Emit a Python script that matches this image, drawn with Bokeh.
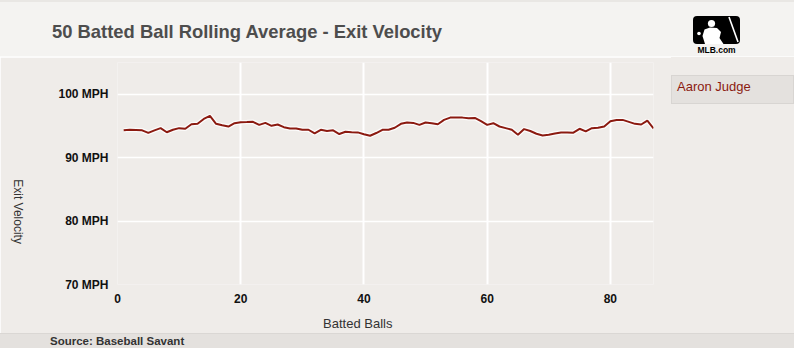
import math
from bokeh.plotting import figure
from bokeh.models import (Range1d, FixedTicker, LinearAxis, Div)
from bokeh.layouts import column, row
from bokeh.embed import file_html
from bokeh.resources import INLINE

# ---------------- data ----------------
title_text = "50 Batted Ball Rolling Average - Exit Velocity"
player = "Aaron Judge"
source_text = "Source: Baseball Savant"
logo_text = "MLB.com"
x_label = "Batted Balls"
y_label = "Exit Velocity"

batted_balls = list(range(1, 88))
exit_velocity = [
    94.30, 94.40, 94.35, 94.30, 93.90, 94.30, 94.65, 94.00, 94.40, 94.65,
    94.55, 95.27, 95.33, 96.10, 96.57, 95.33, 95.10, 94.90, 95.43, 95.59,
    95.60, 95.64, 95.17, 95.48, 95.02, 95.22, 94.80, 94.60, 94.60, 94.39,
    94.40, 93.82, 94.39, 94.20, 94.30, 93.72, 94.08, 94.00, 93.98, 93.70,
    93.45, 93.88, 94.39, 94.39, 94.71, 95.33, 95.54, 95.48, 95.17, 95.54,
    95.43, 95.27, 95.95, 96.31, 96.31, 96.31, 96.20, 96.26, 95.74, 95.17,
    95.43, 94.91, 94.65, 94.39, 93.60, 94.50, 94.20, 93.77, 93.50, 93.60,
    93.80, 93.95, 93.98, 93.93, 94.55, 94.15, 94.65, 94.70, 94.91, 95.74,
    95.95, 95.95, 95.64, 95.33, 95.22, 95.85, 94.60,
]
x_ticks = [0, 20, 40, 60, 80]
y_ticks = [70, 80, 90, 100]
y_tick_labels = ["70 MPH", "80 MPH", "90 MPH", "100 MPH"]

# ---------------- style ----------------
W = 794
CHART_W = 671
LEGEND_W = W - CHART_W
CHART_H = 276
FONT = "Liberation Sans"
HEADER_BG = "#f4f3f1"
CHART_BG = "#efece9"
FOOTER_BG = "#e4e1de"
LINE_COLOR = "#8b1a10"
X_TITLE_AT = 39.0    # where the x-axis title sits (data units, as in the reference)
Y_TITLE_AT = 76.4    # where the y-axis title ends (data units)

# ---------------- header (HTML) ----------------
logo_svg = (
    '<svg width="50" height="40" style="position:absolute;left:693px;top:14px" '
    'xmlns="http://www.w3.org/2000/svg">'
    '<rect x="0" y="0" width="47" height="28" rx="4" fill="#000"/>'
    '<path d="M12 28 L9.5 20 L11.5 13.5 L17 11.5 L24 12 L28 16 L26.5 22 L30.5 28 Z" fill="#fff"/>'
    '<circle cx="18.5" cy="7.5" r="3.6" fill="#fff"/>'
    '<circle cx="6" cy="17.5" r="1.8" fill="#fff"/>'
    '<line x1="36" y1="1" x2="45" y2="26" stroke="#fff" stroke-width="1.6"/>'
    '<text x="23.5" y="37" text-anchor="middle" font-family="Liberation Sans" '
    'font-weight="bold" font-size="8.5px" fill="#000">' + logo_text + '</text>'
    '</svg>'
)
header_html = (
    f'<div style="position:relative;width:{W}px;height:57px;background:{HEADER_BG};'
    'box-sizing:border-box;border-top:2px solid #e9e7e4;border-bottom:1.5px solid #fbfbfa;">'
    f'<span style="position:absolute;left:52px;top:20px;font-family:\'{FONT}\';'
    'font-size:18.4px;font-weight:bold;color:#4d4d4d;line-height:20px;white-space:nowrap;">'
    + title_text + '</span>' + logo_svg + '</div>'
)
header = Div(text=header_html, width=W, height=57, margin=0)

# ---------------- main chart ----------------
p = figure(width=CHART_W, height=CHART_H, x_range=Range1d(0, batted_balls[-1]),
           y_range=Range1d(70, 105), output_backend="svg", toolbar_location=None,
           title=None, min_border_left=116, min_border_right=18,
           min_border_top=5, min_border_bottom=46,
           background_fill_color=CHART_BG, border_fill_color=CHART_BG,
           outline_line_color=None)

p.xaxis.ticker = FixedTicker(ticks=x_ticks)
p.yaxis.ticker = FixedTicker(ticks=y_ticks)
p.yaxis.major_label_overrides = {t: lab for t, lab in zip(y_ticks, y_tick_labels)}


def quiet(ax):
    ax.axis_line_color = None
    ax.major_tick_line_color = None
    ax.minor_tick_line_color = None
    ax.major_tick_out = 0
    ax.major_tick_in = 0
    ax.minor_tick_out = 0
    ax.minor_tick_in = 0


for ax in (p.xaxis[0], p.yaxis[0]):
    quiet(ax)
    ax.major_label_text_font = FONT
    ax.major_label_text_font_size = "12px"
    ax.major_label_text_font_style = "bold"
    ax.major_label_text_color = "#111111"
p.xaxis.major_label_standoff = 9
p.yaxis.major_label_standoff = 9

# axis titles drawn as single labels of title-only axes (placed like the reference)
ylab_axis = LinearAxis(ticker=FixedTicker(ticks=[Y_TITLE_AT]),
                       major_label_overrides={Y_TITLE_AT: y_label},
                       major_label_orientation=-math.pi / 2,
                       major_label_standoff=38,
                       major_label_text_font=FONT, major_label_text_font_size="12px",
                       major_label_text_color="#333333")
quiet(ylab_axis)
p.add_layout(ylab_axis, "left")

xlab_axis = LinearAxis(ticker=FixedTicker(ticks=[X_TITLE_AT]),
                       major_label_overrides={X_TITLE_AT: x_label},
                       major_label_standoff=10,
                       major_label_text_font=FONT, major_label_text_font_size="13px",
                       major_label_text_color="#333333")
quiet(xlab_axis)
p.add_layout(xlab_axis, "below")

p.xgrid.grid_line_color = "white"
p.xgrid.grid_line_width = 2
p.ygrid.grid_line_color = "white"
p.ygrid.grid_line_width = 1.5

p.line(batted_balls, exit_velocity, line_color="white", line_width=4.5, line_alpha=0.85)
p.line(batted_balls, exit_velocity, line_color=LINE_COLOR, line_width=2)

# ---------------- legend (HTML, to the right of the plot area) ----------------
legend_html = (
    f'<div style="position:relative;width:{LEGEND_W}px;height:{CHART_H}px;background:{CHART_BG};">'
    f'<div style="position:absolute;left:0;top:18px;width:{LEGEND_W}px;height:29px;'
    'box-sizing:border-box;background:#e4e1de;border:1px solid #d8d5d2;">'
    f'<span style="position:absolute;left:5px;top:3px;font-family:\'{FONT}\';font-size:13px;'
    f'line-height:15px;color:{LINE_COLOR};white-space:nowrap;">{player}</span>'
    '</div></div>'
)
legend_box = Div(text=legend_html, width=LEGEND_W, height=CHART_H, margin=0)

# ---------------- footer (HTML) ----------------
footer_html = (
    f'<div style="position:relative;width:{W}px;height:15px;background:{FOOTER_BG};'
    'box-sizing:border-box;border-top:1px solid #dad7d4;">'
    f'<span style="position:absolute;left:50px;top:1px;font-family:\'{FONT}\';'
    'font-size:11.5px;font-weight:bold;color:#333333;line-height:13px;white-space:nowrap;">'
    + source_text + '</span></div>'
)
footer = Div(text=footer_html, width=W, height=15, margin=0)

layout = column(header, row(p, legend_box, spacing=0), footer, spacing=0)
open("out.html", "w").write(file_html(layout, INLINE))
